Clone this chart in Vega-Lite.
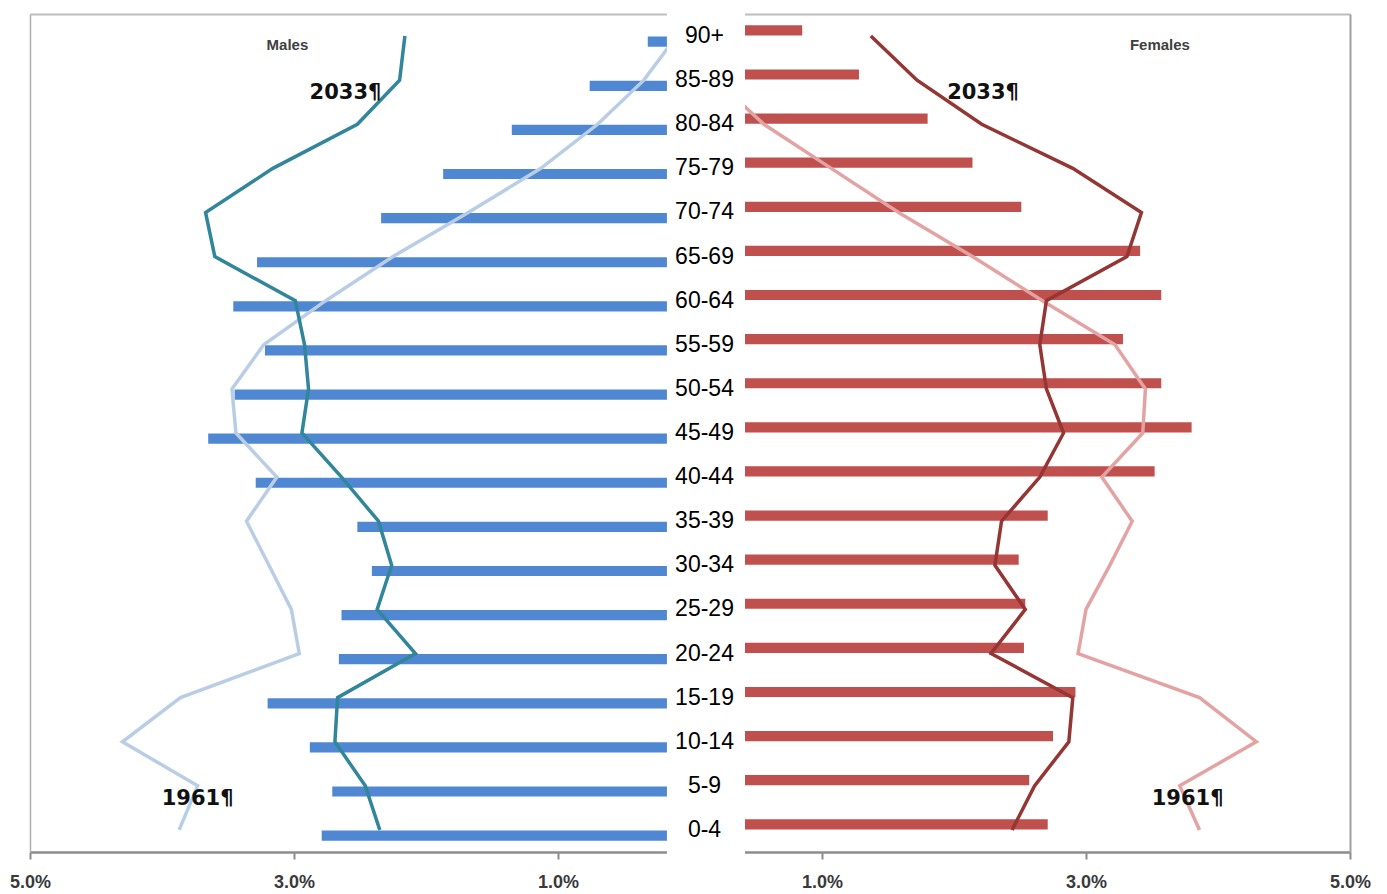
{
  "$schema": "https://vega.github.io/schema/vega-lite/v6.json",
  "width": 1320,
  "height": 838,
  "autosize": "none",
  "padding": {"left": 30, "top": 14, "right": 37, "bottom": 42},
  "background": "white",
  "config": {"view": {"stroke": null}},
  "datasets": {
    "pyramid": [
      {"age": "90+", "lo": 90, "male": -0.32, "female": 0.85, "male_2033": -2.16, "female_2033": 1.37, "male_1961": -0.10, "female_1961": 0.05},
      {"age": "85-89", "lo": 85, "male": -0.76, "female": 1.28, "male_2033": -2.20, "female_2033": 1.72, "male_1961": -0.35, "female_1961": 0.20},
      {"age": "80-84", "lo": 80, "male": -1.35, "female": 1.80, "male_2033": -2.52, "female_2033": 2.21, "male_1961": -0.70, "female_1961": 0.56},
      {"age": "75-79", "lo": 75, "male": -1.87, "female": 2.14, "male_2033": -3.16, "female_2033": 2.90, "male_1961": -1.13, "female_1961": 1.07},
      {"age": "70-74", "lo": 70, "male": -2.34, "female": 2.51, "male_2033": -3.67, "female_2033": 3.42, "male_1961": -1.68, "female_1961": 1.58},
      {"age": "65-69", "lo": 65, "male": -3.28, "female": 3.41, "male_2033": -3.60, "female_2033": 3.31, "male_1961": -2.25, "female_1961": 2.14},
      {"age": "60-64", "lo": 60, "male": -3.46, "female": 3.57, "male_2033": -2.99, "female_2033": 2.70, "male_1961": -2.76, "female_1961": 2.67},
      {"age": "55-59", "lo": 55, "male": -3.22, "female": 3.28, "male_2033": -2.92, "female_2033": 2.65, "male_1961": -3.23, "female_1961": 3.22},
      {"age": "50-54", "lo": 50, "male": -3.45, "female": 3.57, "male_2033": -2.89, "female_2033": 2.70, "male_1961": -3.47, "female_1961": 3.45},
      {"age": "45-49", "lo": 45, "male": -3.65, "female": 3.80, "male_2033": -2.94, "female_2033": 2.83, "male_1961": -3.44, "female_1961": 3.43},
      {"age": "40-44", "lo": 40, "male": -3.29, "female": 3.52, "male_2033": -2.64, "female_2033": 2.65, "male_1961": -3.13, "female_1961": 3.12},
      {"age": "35-39", "lo": 35, "male": -2.52, "female": 2.71, "male_2033": -2.36, "female_2033": 2.36, "male_1961": -3.36, "female_1961": 3.35},
      {"age": "30-34", "lo": 30, "male": -2.41, "female": 2.49, "male_2033": -2.26, "female_2033": 2.31, "male_1961": -3.19, "female_1961": 3.18},
      {"age": "25-29", "lo": 25, "male": -2.64, "female": 2.54, "male_2033": -2.37, "female_2033": 2.54, "male_1961": -3.02, "female_1961": 3.00},
      {"age": "20-24", "lo": 20, "male": -2.66, "female": 2.53, "male_2033": -2.08, "female_2033": 2.28, "male_1961": -2.96, "female_1961": 2.94},
      {"age": "15-19", "lo": 15, "male": -3.20, "female": 2.92, "male_2033": -2.67, "female_2033": 2.90, "male_1961": -3.86, "female_1961": 3.86},
      {"age": "10-14", "lo": 10, "male": -2.88, "female": 2.75, "male_2033": -2.69, "female_2033": 2.87, "male_1961": -4.30, "female_1961": 4.29},
      {"age": "5-9", "lo": 5, "male": -2.71, "female": 2.57, "male_2033": -2.46, "female_2033": 2.61, "male_1961": -3.73, "female_1961": 3.71},
      {"age": "0-4", "lo": 0, "male": -2.79, "female": 2.71, "male_2033": -2.35, "female_2033": 2.44, "male_1961": -3.87, "female_1961": 3.86}
    ],
    "titles": [
      {"label": "Males", "age": "90+", "pct": -3.05},
      {"label": "Females", "age": "90+", "pct": 3.56}
    ],
    "years": [
      {"label": "2033¶", "age": "85-89", "pct": -2.61},
      {"label": "2033¶", "age": "85-89", "pct": 2.22},
      {"label": "1961¶", "age": "5-9", "pct": -3.73},
      {"label": "1961¶", "age": "5-9", "pct": 3.77}
    ]
  },
  "layer": [
    {
      "data": {"name": "pyramid"},
      "transform": [{"fold": ["male", "female"], "as": ["sex", "pct"]}],
      "mark": {"type": "bar"},
      "encoding": {
        "y": {
          "field": "age", "type": "nominal",
          "sort": ["90+", "85-89", "80-84", "75-79", "70-74", "65-69", "60-64", "55-59", "50-54", "45-49", "40-44", "35-39", "30-34", "25-29", "20-24", "15-19", "10-14", "5-9", "0-4"],
          "scale": {"type": "band", "paddingInner": 0, "paddingOuter": 0},
          "axis": {"orient": "left", "labels": false, "ticks": false, "title": null, "grid": false, "domainColor": "#b0b0b0", "domainWidth": 1.5}
        },
        "yOffset": {"field": "sex", "type": "nominal", "sort": ["female", "male"], "scale": {"paddingInner": 0.1, "paddingOuter": 1.15}},
        "x": {
          "field": "pct", "type": "quantitative",
          "scale": {"domain": [-5, 5], "nice": false},
          "axis": {"orient": "bottom", "values": [-5, -3, -1, 1, 3, 5], "labelExpr": "format(abs(datum.value) / 100, '.1%')", "title": null, "grid": false, "domainColor": "#8c8c8c", "domainWidth": 2.5, "tickColor": "#8c8c8c", "tickWidth": 2, "tickSize": 7, "labelFont": "Liberation Sans", "labelFontWeight": "bold", "labelFontSize": 18, "labelColor": "#3a3a3a", "labelPadding": 14, "labelFlush": false, "labelOverlap": false}
        },
        "color": {"field": "sex", "type": "nominal", "scale": {"domain": ["male", "female"], "range": ["#4F87D2", "#C0504D"]}, "legend": null}
      }
    },
    {
      "data": {"name": "pyramid"},
      "mark": {"type": "line", "color": "#B9CDE5", "strokeWidth": 3.5},
      "encoding": {
        "x": {"field": "male_1961", "type": "quantitative", "axis": {"orient": "top", "labels": false, "ticks": false, "title": null, "grid": false, "domainColor": "#bdbdbd", "domainWidth": 2}},
        "y": {"field": "age", "type": "nominal", "sort": ["90+", "85-89", "80-84", "75-79", "70-74", "65-69", "60-64", "55-59", "50-54", "45-49", "40-44", "35-39", "30-34", "25-29", "20-24", "15-19", "10-14", "5-9", "0-4"], "axis": {"orient": "right", "labels": false, "ticks": false, "title": null, "grid": false, "domainColor": "#a0a0a0", "domainWidth": 2}},
        "order": {"field": "lo", "type": "quantitative"}
      }
    },
    {
      "data": {"name": "pyramid"},
      "mark": {"type": "line", "color": "#E3A3A2", "strokeWidth": 3.5},
      "encoding": {
        "x": {"field": "female_1961", "type": "quantitative", "axis": null},
        "y": {"field": "age", "type": "nominal", "sort": ["90+", "85-89", "80-84", "75-79", "70-74", "65-69", "60-64", "55-59", "50-54", "45-49", "40-44", "35-39", "30-34", "25-29", "20-24", "15-19", "10-14", "5-9", "0-4"], "axis": null},
        "order": {"field": "lo", "type": "quantitative"}
      }
    },
    {
      "data": {"name": "pyramid"},
      "mark": {"type": "line", "color": "#31869B", "strokeWidth": 3.5},
      "encoding": {
        "x": {"field": "male_2033", "type": "quantitative", "axis": null},
        "y": {"field": "age", "type": "nominal", "sort": ["90+", "85-89", "80-84", "75-79", "70-74", "65-69", "60-64", "55-59", "50-54", "45-49", "40-44", "35-39", "30-34", "25-29", "20-24", "15-19", "10-14", "5-9", "0-4"], "axis": null},
        "order": {"field": "lo", "type": "quantitative"}
      }
    },
    {
      "data": {"name": "pyramid"},
      "mark": {"type": "line", "color": "#943634", "strokeWidth": 3.5},
      "encoding": {
        "x": {"field": "female_2033", "type": "quantitative", "axis": null},
        "y": {"field": "age", "type": "nominal", "sort": ["90+", "85-89", "80-84", "75-79", "70-74", "65-69", "60-64", "55-59", "50-54", "45-49", "40-44", "35-39", "30-34", "25-29", "20-24", "15-19", "10-14", "5-9", "0-4"], "axis": null},
        "order": {"field": "lo", "type": "quantitative"}
      }
    },
    {
      "data": {"name": "pyramid"},
      "mark": {"type": "rect", "fill": "white", "stroke": "white", "strokeWidth": 6},
      "encoding": {
        "x": {"datum": -0.152, "type": "quantitative", "axis": null},
        "x2": {"datum": 0.394},
        "y": {"field": "age", "type": "nominal", "sort": ["90+", "85-89", "80-84", "75-79", "70-74", "65-69", "60-64", "55-59", "50-54", "45-49", "40-44", "35-39", "30-34", "25-29", "20-24", "15-19", "10-14", "5-9", "0-4"], "axis": null}
      }
    },
    {
      "data": {"name": "pyramid"},
      "mark": {"type": "text", "font": "Liberation Sans", "fontSize": 23, "color": "#000000", "align": "center", "baseline": "middle"},
      "encoding": {
        "x": {"datum": 0.11, "type": "quantitative", "axis": null},
        "y": {"field": "age", "type": "nominal", "sort": ["90+", "85-89", "80-84", "75-79", "70-74", "65-69", "60-64", "55-59", "50-54", "45-49", "40-44", "35-39", "30-34", "25-29", "20-24", "15-19", "10-14", "5-9", "0-4"], "axis": null},
        "text": {"field": "age", "type": "nominal"}
      }
    },
    {
      "data": {"name": "titles"},
      "mark": {"type": "text", "font": "Liberation Sans", "fontWeight": "bold", "fontSize": 15, "color": "#404040", "align": "center", "baseline": "middle", "dy": 9},
      "encoding": {
        "x": {"field": "pct", "type": "quantitative", "axis": null},
        "y": {"field": "age", "type": "nominal", "sort": ["90+", "85-89", "80-84", "75-79", "70-74", "65-69", "60-64", "55-59", "50-54", "45-49", "40-44", "35-39", "30-34", "25-29", "20-24", "15-19", "10-14", "5-9", "0-4"], "axis": null},
        "text": {"field": "label", "type": "nominal"}
      }
    },
    {
      "data": {"name": "years"},
      "mark": {"type": "text", "font": "DejaVu Sans", "fontWeight": "bold", "fontSize": 21, "color": "#111111", "align": "center", "baseline": "middle", "dy": 13},
      "encoding": {
        "x": {"field": "pct", "type": "quantitative", "axis": null},
        "y": {"field": "age", "type": "nominal", "sort": ["90+", "85-89", "80-84", "75-79", "70-74", "65-69", "60-64", "55-59", "50-54", "45-49", "40-44", "35-39", "30-34", "25-29", "20-24", "15-19", "10-14", "5-9", "0-4"], "axis": null},
        "text": {"field": "label", "type": "nominal"}
      }
    }
  ],
  "resolve": {"axis": {"x": "independent", "y": "independent"}}
}
